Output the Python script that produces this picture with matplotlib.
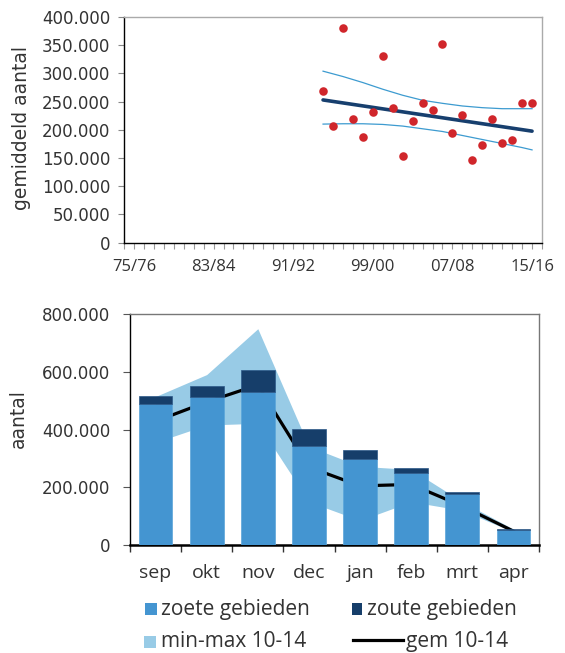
import matplotlib
matplotlib.use("Agg")
import matplotlib.pyplot as plt
from matplotlib.ticker import FuncFormatter, MultipleLocator, FixedLocator
from matplotlib.patches import Rectangle
from matplotlib.lines import Line2D

# ---------------- data ----------------
# top chart: seasonal mean counts (season start year)
point_years = list(range(1994, 2016))
point_values = [268000, 207000, 381000, 220000, 187000, 232000, 331000, 239000,
                154000, 216000, 248000, 235000, 352000, 194000, 227000, 146000,
                173000, 220000, 176000, 182000, 248000, 248000]
trend_years = [1994, 2015]
trend_values = [253000, 197700]
ci_years = [1994, 1996, 1998, 2000, 2002, 2004, 2006, 2008, 2010, 2012, 2014, 2015]
ci_upper = [304000, 294500, 283800, 272000, 261300, 252400, 247000, 242300,
            239300, 237500, 237500, 237500]
ci_lower = [210200, 210800, 210800, 209600, 206700, 201900, 197100, 190000,
            182900, 175800, 168600, 164500]
season_tick_years = [1975, 1983, 1991, 1999, 2007, 2015]
season_tick_labels = ["75/76", "83/84", "91/92", "99/00", "07/08", "15/16"]

# bottom chart: monthly counts
months = ["sep", "okt", "nov", "dec", "jan", "feb", "mrt", "apr"]
zoete = [488000, 512000, 531000, 343000, 298000, 250000, 178000, 53000]
zoute = [27000, 39000, 76000, 58000, 31000, 16000, 7000, 1000]
band_max = [515000, 591000, 750000, 342000, 273000, 262000, 150000, 55000]
band_min = [356000, 416000, 422000, 150000, 85000, 150000, 120000, 45000]
gem = [429000, 496000, 555000, 270000, 205000, 210000, 135000, 48000]

# ---------------- style ----------------
W, H = 565, 653
TXT = "#333333"
C_POINT = "#d0262b"
C_TREND = "#173f6e"
C_CI = "#3d9bd0"
C_ZOET = "#4495d1"
C_ZOUT = "#163e6a"
C_BAND = "#98cbe6"

fig = plt.figure(figsize=(W / 100, H / 100), dpi=100)

def fx(px):
    return px / W

def fy(py):
    return 1 - py / H

def thousands(v, pos=None):
    v = int(round(v))
    if v == 0:
        return "0"
    return f"{v:,}".replace(",", ".")

# ---------------- top chart ----------------
ax1 = fig.add_axes([fx(124), fy(242.7), fx(542) - fx(124), fy(17) - fy(242.7)])
ax1.plot(ci_years, ci_upper, color=C_CI, lw=0.9, zorder=2)
ax1.plot(ci_years, ci_lower, color=C_CI, lw=0.9, zorder=2)
ax1.plot(trend_years, trend_values, color=C_TREND, lw=2.6, solid_capstyle="round", zorder=3)
ax1.scatter(point_years, point_values, s=38, color=C_POINT, zorder=4, linewidths=0)
ax1.set_xlim(1974, 2016)
ax1.set_ylim(0, 400000)
ax1.yaxis.set_major_locator(MultipleLocator(50000))
ax1.yaxis.set_major_formatter(FuncFormatter(thousands))
ax1.xaxis.set_major_locator(FixedLocator(season_tick_years))
ax1.set_xticklabels(season_tick_labels)
ax1.xaxis.set_minor_locator(MultipleLocator(1))
ax1.tick_params(axis="y", direction="out", length=4, width=0.8, color="#888888",
                labelsize=12, labelcolor=TXT, pad=6)
ax1.tick_params(axis="x", which="both", direction="out", length=4, width=0.8,
                color="#999999", labelsize=12, labelcolor=TXT, pad=8)
for lab in ax1.get_xticklabels():
    lab.set_fontfamily("Open Sans")
for lab in ax1.get_yticklabels():
    lab.set_fontfamily("DejaVu Sans")
for s in ["top", "right"]:
    ax1.spines[s].set_color("#aaaaaa")
    ax1.spines[s].set_linewidth(1.0)
for s in ["left", "bottom"]:
    ax1.spines[s].set_color("black")
    ax1.spines[s].set_linewidth(1.0)
ax1.set_ylabel("gemiddeld aantal", fontsize=13.5, color=TXT, family="DejaVu Sans")
ax1.yaxis.set_label_coords((31 - 124) / 418, 0.51)

# ---------------- bottom chart ----------------
ax2 = fig.add_axes([fx(130), fy(545), fx(539) - fx(130), fy(314.3) - fy(545)])
x = list(range(len(months)))
ax2.fill_between(x, band_min, band_max, color=C_BAND, linewidth=0, zorder=1)
ax2.plot(x, gem, color="black", lw=2.3, zorder=2)
ax2.bar(x, zoete, width=0.66, color=C_ZOET, zorder=3, edgecolor="#5aa5da", linewidth=0.5)
ax2.bar(x, zoute, width=0.66, bottom=zoete, color=C_ZOUT, zorder=3,
        edgecolor="#2c5888", linewidth=0.5)
ax2.set_xlim(-0.5, len(months) - 0.5)
ax2.set_ylim(0, 800000)
ax2.yaxis.set_major_locator(MultipleLocator(200000))
ax2.yaxis.set_major_formatter(FuncFormatter(thousands))
ax2.set_xticks(x)
ax2.set_xticklabels(months)
ax2.xaxis.set_minor_locator(FixedLocator([i - 0.5 for i in range(len(months) + 1)]))
ax2.tick_params(axis="x", which="major", length=0, labelsize=14, labelcolor=TXT, pad=14)
ax2.tick_params(axis="x", which="minor", direction="out", length=5, width=1.0, color="#333333")
ax2.tick_params(axis="y", direction="out", length=5, width=0.8, color="#555555",
                labelsize=12, labelcolor=TXT, pad=9)
for lab in ax2.get_xticklabels():
    lab.set_fontfamily("Open Sans")
for lab in ax2.get_yticklabels():
    lab.set_fontfamily("DejaVu Sans")
for s in ["top", "right"]:
    ax2.spines[s].set_color("#777777")
    ax2.spines[s].set_linewidth(1.0)
ax2.spines["left"].set_color("black")
ax2.spines["left"].set_linewidth(1.0)
ax2.spines["bottom"].set_color("black")
ax2.spines["bottom"].set_linewidth(1.8)
ax2.set_ylabel("aantal", fontsize=13.5, color=TXT, family="DejaVu Sans")
ax2.yaxis.set_label_coords((28 - 130) / 409, 0.55)

# ---------------- legend ----------------
LEG_FS = 15
def sq(x0, y0, x1, y1, color):
    fig.add_artist(Rectangle((fx(x0), fy(y1)), fx(x1) - fx(x0), fy(y0) - fy(y1),
                             transform=fig.transFigure, color=color, linewidth=0))

sq(145, 603.3, 156.7, 615, C_ZOET)
fig.text(fx(161), fy(609), "zoete gebieden", fontsize=LEG_FS, color=TXT,
         family="Open Sans", va="center", ha="left")
sq(351.7, 603.3, 362.3, 615, C_ZOUT)
fig.text(fx(367), fy(609), "zoute gebieden", fontsize=LEG_FS, color=TXT,
         family="Open Sans", va="center", ha="left")
sq(144, 636, 156, 647.5, C_BAND)
fig.text(fx(161), fy(641.5), "min-max 10-14", fontsize=LEG_FS, color=TXT,
         family="Open Sans", va="center", ha="left")
fig.add_artist(Line2D([fx(353.3), fx(403.3)], [fy(640), fy(640)], color="black",
                      lw=2.3, transform=fig.transFigure))
fig.text(fx(406), fy(641.5), "gem 10-14", fontsize=LEG_FS, color=TXT,
         family="Open Sans", va="center", ha="left")

fig.savefig("out.png", dpi=100)
